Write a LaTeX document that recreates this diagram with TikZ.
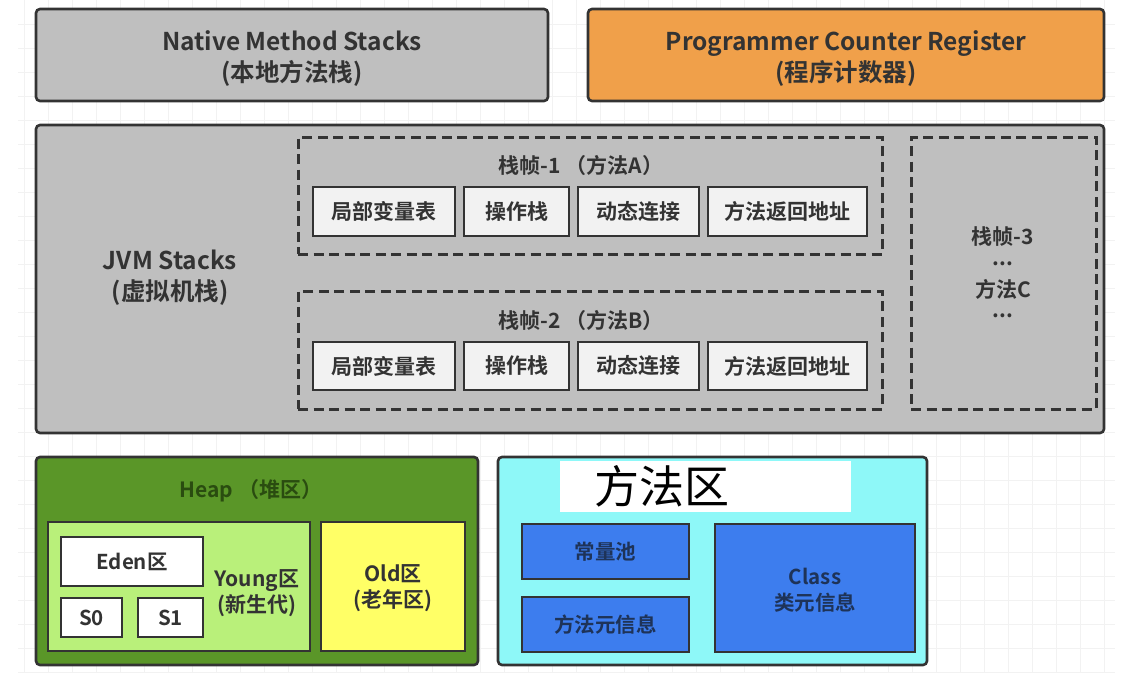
\documentclass[tikz,border=0pt]{standalone}
\usepackage{fontspec}
\setmainfont{Noto Sans CJK SC}
\newfontfamily\cjkb{Noto Sans CJK SC Bold}
\newfontfamily\cjkr{Noto Sans CJK SC}
\definecolor{bd}{HTML}{333333}
\definecolor{gfill}{HTML}{BFBFBF}
\definecolor{ofill}{HTML}{F0A04A}
\definecolor{hgreen}{HTML}{5A9628}
\definecolor{ygreen}{HTML}{B9F07A}
\definecolor{oyel}{HTML}{FFFF66}
\definecolor{cyanf}{HTML}{8EF8F8}
\definecolor{bluef}{HTML}{3D7DEE}
\definecolor{wfill}{HTML}{F2F2F2}
\definecolor{txt}{HTML}{333333}
\definecolor{htxt}{HTML}{2A4C10}
\definecolor{btxt}{HTML}{1E3358}
\definecolor{gridc}{HTML}{F2F2F2}
\begin{document}
\begin{tikzpicture}[x=1pt,y=-1pt,
  region/.style={draw=bd, line width=2.6pt, rounded corners=4pt, inner sep=0pt, align=center, font=\cjkb, text=txt},
  frame/.style={draw=bd, line width=3pt, dash pattern=on 10pt off 5.5pt, inner sep=0pt},
  cell/.style={draw=bd, line width=2.6pt, fill=wfill, inner sep=0pt, font=\cjkb\fontsize{21}{24}\selectfont, text=txt},
  sub/.style={draw=bd, line width=2.4pt, inner sep=0pt, align=center, font=\cjkb\fontsize{20.5}{26}\selectfont, text=txt},
  lbl/.style={font=\cjkb\fontsize{21}{24}\selectfont, text=txt, align=center, inner sep=0pt},
  big/.style={font=\cjkb\fontsize{24.5}{31}\selectfont, text=txt, align=center, inner sep=0pt}
]
\useasboundingbox (0,0) rectangle (1129,678);
\fill[white] (0,0) rectangle (1129,678);
% faint grid
\foreach \gx in {24,48,...,1104} \draw[gridc, line width=0.6pt] (\gx,0) -- (\gx,672);
\foreach \gy in {24,48,...,672} \draw[gridc, line width=0.6pt] (18,\gy) -- (1115,\gy);

% top row
\node[region, fill=gfill, minimum width=512pt, minimum height=92pt] (native) at (292,55) {};
\node[big] (nativet) at (292,58.5) {Native Method Stacks\\(本地方法栈)};
\node[region, fill=ofill, minimum width=516pt, minimum height=92pt] (pcr) at (846,55) {};
\node[big, text=black!80] (pcrt) at (846,58.5) {Programmer Counter Register\\(程序计数器)};

% JVM stacks
\node[region, fill=gfill, minimum width=1068pt, minimum height=308pt] (jvm) at (570,279) {};
\node[big] (jvmt) at (170,277.5) {JVM Stacks\\(虚拟机栈)};

% frame 1
\node[frame, minimum width=584pt, minimum height=117pt] (f1) at (590,195.5) {};
\node[lbl] (f1t) at (581,165) {栈帧-1 （方法A）};
\node[cell, minimum width=142pt, minimum height=49pt] (a1) at (384,211.5) {局部变量表};
\node[cell, minimum width=105pt, minimum height=49pt] (a2) at (516.5,211.5) {操作栈};
\node[cell, minimum width=121pt, minimum height=49pt] (a3) at (638.5,211.5) {动态连接};
\node[cell, minimum width=159pt, minimum height=49pt] (a4) at (787.5,211.5) {方法返回地址};

% frame 2
\node[frame, minimum width=584pt, minimum height=118pt] (f2) at (590,350) {};
\node[lbl] (f2t) at (581,320) {栈帧-2 （方法B）};
\node[cell, minimum width=142pt, minimum height=48pt] (b1) at (384,366) {局部变量表};
\node[cell, minimum width=105pt, minimum height=48pt] (b2) at (516.5,366) {操作栈};
\node[cell, minimum width=121pt, minimum height=48pt] (b3) at (638.5,366) {动态连接};
\node[cell, minimum width=159pt, minimum height=48pt] (b4) at (787.5,366) {方法返回地址};

% frame 3
\node[frame, minimum width=185pt, minimum height=272pt] (f3) at (1003.5,273) {};
\node[lbl] (f3a) at (1003,237) {栈帧-3};
\node[lbl] (f3b) at (1003,264) {...};
\node[lbl] (f3c) at (1003,289) {方法C};
\node[lbl] (f3d) at (1003,316) {...};

% heap
\node[region, fill=hgreen, minimum width=442pt, minimum height=208pt] (heap) at (257,561) {};
\node[lbl, text=htxt] (heapt) at (251,491) {Heap （堆区）};
\node[sub, fill=ygreen, minimum width=262pt, minimum height=129pt] (young) at (179,586.5) {};
\node[sub, fill=white, minimum width=142pt, minimum height=49pt] (eden) at (132,561.5) {Eden区};
\node[sub, fill=white, minimum width=61pt, minimum height=39pt] (s0) at (91.5,617.5) {S0};
\node[sub, fill=white, minimum width=65pt, minimum height=39pt] (s1) at (170.5,617.5) {S1};
\node[lbl, font=\cjkb\fontsize{21}{26}\selectfont] (youngt) at (257,593) {Young区\\(新生代)};
\node[sub, fill=oyel, minimum width=144pt, minimum height=129pt] (old) at (393,586.5) {};
\node[lbl, font=\cjkb\fontsize{21}{26}\selectfont] (oldt) at (393,588) {Old区\\(老年区)};

% method area
\node[region, fill=cyanf, minimum width=429pt, minimum height=208pt] (ma) at (712.5,561) {};
\fill[white] (560,461) rectangle (851,512);
\node[inner sep=0pt, font=\cjkr\fontsize{45}{48}\selectfont, text=black] (mat) at (662,486) {方法区};
\node[sub, fill=bluef, text=btxt, minimum width=167pt, minimum height=55pt] (cp) at (605.5,551.5) {常量池};
\node[sub, fill=bluef, text=btxt, minimum width=167pt, minimum height=55pt] (mm) at (605.5,624.5) {方法元信息};
\node[sub, fill=bluef, text=btxt, minimum width=200pt, minimum height=128pt] (cls) at (815,588) {};
\node[lbl, text=btxt, font=\cjkb\fontsize{20.5}{26}\selectfont] (clst) at (815,590) {Class\\类元信息};
\end{tikzpicture}
\end{document}
